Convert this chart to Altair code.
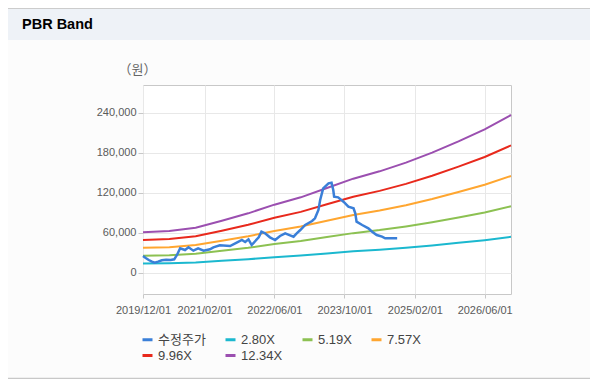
import altair as alt
import pandas as pd

# ---------------- data ----------------
series_names = ["수정주가", "2.80X", "5.19X", "7.57X", "9.96X", "12.34X"]
series_colors = ["#3a7fd8", "#1bb8cf", "#8cc152", "#ffa630", "#e8291c", "#9b4fb0"]

band_dates = ["2019-12-01", "2020-06-01", "2020-12-01", "2021-06-01", "2021-12-01",
              "2022-06-01", "2022-12-01", "2023-06-01", "2023-12-01", "2024-06-01",
              "2024-12-01", "2025-06-01", "2025-12-01", "2026-06-01", "2026-12-01"]
band_280 = [13750, 14200, 15300, 17700, 20200, 23100, 25600, 28800, 32000, 34500,
            37400, 40800, 44700, 48800, 53700]
band_519 = [25500, 26300, 28400, 32800, 37400, 42900, 47500, 53400, 59300, 63900,
            69400, 75700, 82900, 90400, 99500]
band_757 = [37200, 38300, 41400, 47900, 54600, 62600, 69300, 77900, 86500, 93300,
            101200, 110400, 120900, 131900, 145100]
band_996 = [48900, 50400, 54500, 63000, 71800, 82300, 91200, 102500, 113800, 122700,
            133200, 145300, 159000, 173500, 190900]
band_1234 = [60600, 62500, 67500, 78000, 89000, 102000, 113000, 127000, 141000, 152000,
             165000, 180000, 197000, 215000, 236500]

price_dates = ["2019-12-01", "2019-12-20", "2020-01-10", "2020-02-01", "2020-02-20",
               "2020-03-15", "2020-04-10", "2020-05-10", "2020-06-10", "2020-07-05",
               "2020-07-25", "2020-08-15", "2020-09-18", "2020-10-12", "2020-11-15",
               "2020-12-18", "2021-01-25", "2021-03-10", "2021-04-03", "2021-05-18",
               "2021-07-28", "2021-09-12", "2021-10-18", "2021-11-10", "2021-12-03",
               "2021-12-25", "2022-02-12", "2022-03-03", "2022-03-28", "2022-05-01",
               "2022-06-06", "2022-07-10", "2022-08-15", "2022-09-18", "2022-10-12",
               "2022-11-03", "2022-11-28", "2023-01-01", "2023-02-18", "2023-03-10",
               "2023-04-03", "2023-04-15", "2023-05-06", "2023-06-12", "2023-07-03",
               "2023-07-15", "2023-07-21", "2023-08-18", "2023-09-24", "2023-10-28",
               "2023-12-03", "2023-12-15", "2023-12-24", "2024-02-01", "2024-03-15",
               "2024-04-10", "2024-05-12", "2024-06-18", "2024-07-10", "2024-10-01"]
price_values = [25000, 22000, 19000, 16500, 15000,
                16500, 18500, 19500, 19000, 20000,
                27000, 36600, 34000, 38000, 33000,
                36600, 33000, 35000, 38000, 41000,
                40000, 45000, 49000, 46000, 50000,
                41500, 53000, 61500, 59000, 53000,
                49000, 55000, 59000, 56000, 54000,
                59000, 64000, 71500, 77500, 81500,
                94000, 109000, 126500, 134000, 135000,
                124000, 114000, 113000, 106500, 99000,
                96500, 89000, 76500, 71500, 66500,
                61500, 56500, 54000, 51500, 51500]

x_tick_dates = [(2019, 12), (2021, 2), (2022, 6), (2023, 10), (2025, 2), (2026, 6)]
y_ticks = [0, 60000, 120000, 180000, 240000]
y_domain = [-32000, 281500]
x_domain = [(2019, 12), (2026, 12)]

# ---------------- tables ----------------
band_rows = []
for name, vals in zip(series_names[1:], [band_280, band_519, band_757, band_996, band_1234]):
    for d, v in zip(band_dates, vals):
        band_rows.append({"date": d + "T00:00:00", "value": v, "series": name})
bands = pd.DataFrame(band_rows)
price = pd.DataFrame({"date": [d + "T00:00:00" for d in price_dates],
                      "value": price_values, "series": series_names[0]})

FONT = "Liberation Sans, 'Noto Sans CJK KR', sans-serif"

x_enc = alt.X(
    "date:T",
    scale=alt.Scale(domain=[alt.DateTime(year=y, month=m, date=1) for y, m in x_domain]),
    axis=alt.Axis(
        values=[alt.DateTime(year=y, month=m, date=1) for y, m in x_tick_dates],
        format="%Y/%m/%d", title=None, labelFontSize=11, labelColor="#5a5a5a",
        labelFont=FONT, labelFlush=False, labelOverlap=False, labelPadding=6,
        tickColor="#c8c8c8", tickSize=4, domain=False, gridColor="#e8e8e8",
    ),
)
y_enc = alt.Y(
    "value:Q",
    scale=alt.Scale(domain=y_domain, nice=False, zero=False),
    axis=alt.Axis(
        values=y_ticks, format=",.0f", labelFontSize=11, labelColor="#5a5a5a",
        labelFont=FONT, labelPadding=2, tickColor="#c8c8c8", tickSize=5,
        domain=False, gridColor="#e8e8e8",
        title="（원）", titleAngle=0, titleX=-6, titleY=-16, titleAlign="center",
        titleBaseline="middle", titleFontWeight="normal", titleFontSize=13,
        titleColor="#666666", titleFont="'Noto Sans CJK KR', sans-serif",
    ),
)
color_enc = alt.Color(
    "series:N",
    scale=alt.Scale(domain=series_names, range=series_colors),
    legend=alt.Legend(
        title=None, orient="none", legendX=-2, legendY=248, direction="horizontal",
        columns=4, columnPadding=13, rowPadding=2, symbolType="stroke",
        symbolSize=100, symbolStrokeWidth=3, labelFontSize=13, labelColor="#444444",
        labelFont=FONT, labelOffset=4,
    ),
)

band_layer = alt.Chart(bands).mark_line(strokeWidth=2).encode(
    x=x_enc, y=y_enc, color=color_enc, detail="series:N"
)
price_layer = alt.Chart(price).mark_line(strokeWidth=2.5).encode(
    x=x_enc, y=y_enc, color=color_enc
)

deco = pd.DataFrame({"t": ["PBR Band"]})
header = alt.Chart(deco).mark_rect(color="#eef2f7").encode(
    x=alt.value(-135), x2=alt.value(447), y=alt.value(-77), y2=alt.value(-45)
)
top_line = alt.Chart(deco).mark_rule(color="#cccccc", strokeWidth=1).encode(
    x=alt.value(-135), x2=alt.value(447), y=alt.value(-76.5)
)
bottom_line = alt.Chart(deco).mark_rule(color="#c8c8c8", strokeWidth=1.5).encode(
    x=alt.value(-135), x2=alt.value(447), y=alt.value(293.5)
)
title = alt.Chart(deco).mark_text(
    align="left", baseline="alphabetic", font=FONT, fontSize=14.5,
    fontWeight="bold", color="#000000"
).encode(x=alt.value(-121), y=alt.value(-56), text="t:N")

chart = alt.layer(
    header, top_line, bottom_line, title, band_layer, price_layer
).properties(
    width=368, height=209,
    autosize=alt.AutoSizeParams(type="none"),
    padding={"left": 135, "top": 77, "right": 79, "bottom": 85},
    background="#fcfcfc",
).configure_view(
    stroke="#c8c8c8", fill="#ffffff"
)

chart.save("out.html", embed_options={"renderer": "svg", "actions": False})
